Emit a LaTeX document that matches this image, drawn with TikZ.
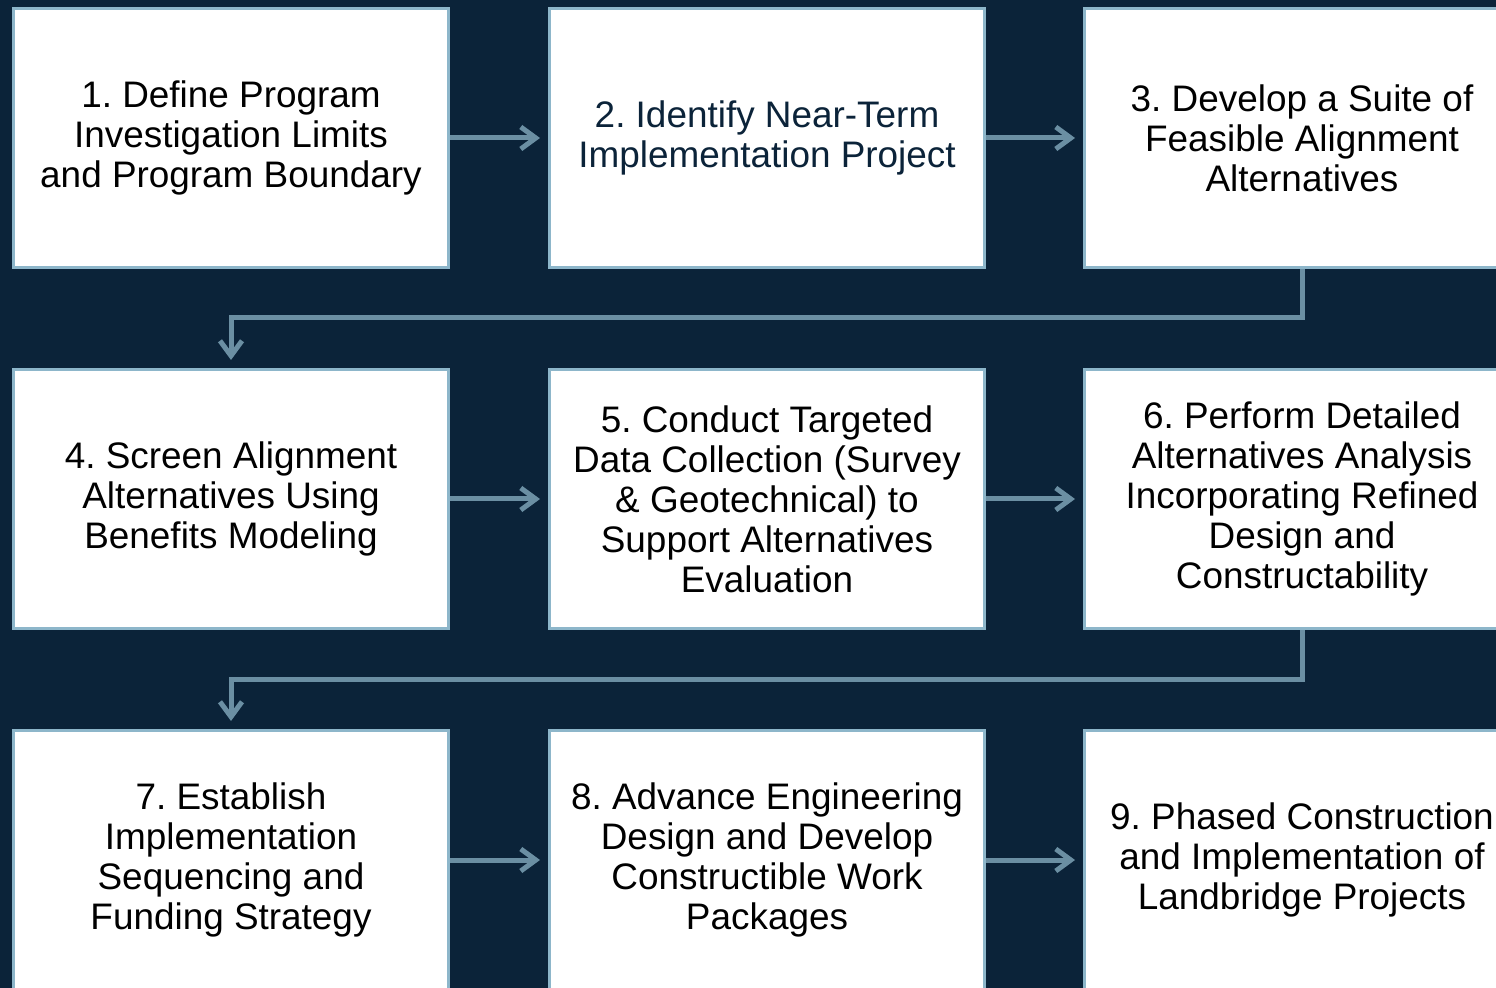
\documentclass[tikz,border=0pt]{standalone}
\usepackage{fontspec}
\setmainfont{Liberation Sans}
\usetikzlibrary{arrows.meta}

\definecolor{navy}{HTML}{0B2339}
\definecolor{edgeblue}{HTML}{8DB6CA}
\definecolor{flowblue}{HTML}{6B8FA3}

\tikzset{
    stepbox/.style={draw=edgeblue, line width=0.3mm, fill=white, minimum width=4.35cm, minimum height=2.59cm, inner sep=0pt, align=center, text=black, font=\fontsize{10.5}{11.4}\selectfont},
    flow/.style={draw=flowblue, line width=0.5mm, -{Straight Barb[length=1.5mm,width=2.2mm]}, shorten >=0.8mm}
}

\begin{document}
\frenchspacing
\begin{tikzpicture}[x=1cm, y=-1cm]
    \fill[navy] (0,0) rectangle (14.96,9.88);
    \useasboundingbox (0,0) rectangle (14.96,9.88);

	%1
	\node[stepbox] (b1) at (2.31,1.38) {1. Define Program\\Investigation Limits\\and Program Boundary};
	\node[stepbox, text=navy] (b2) at (7.67,1.38) {2. Identify Near-Term\\Implementation Project};
	\node[stepbox] (b3) at (13.02,1.38) {3. Develop a Suite of\\Feasible Alignment\\Alternatives};

	\draw[flow] (b1) -- (b2);
	\draw[flow] (b2) -- (b3);

	%2
	\node[stepbox] (b4) at (2.31,4.99) {4. Screen Alignment\\Alternatives Using\\Benefits Modeling};
	\node[stepbox] (b5) at (7.67,4.99) {5. Conduct Targeted\\Data Collection (Survey\\\& Geotechnical) to\\Support Alternatives\\Evaluation};
	\node[stepbox] (b6) at (13.02,4.99) {6. Perform Detailed\\Alternatives Analysis\\Incorporating Refined\\Design and\\Constructability};

	\draw[flow] (b3.south) -- ++(0,0.49) -| (b4.north);
	\draw[flow] (b4) -- (b5);
	\draw[flow] (b5) -- (b6);

	%3
	\node[stepbox] (b7) at (2.31,8.60) {7. Establish\\Implementation\\Sequencing and\\Funding Strategy};
	\node[stepbox] (b8) at (7.67,8.60) {8. Advance Engineering\\Design and Develop\\Constructible Work\\Packages};
	\node[stepbox] (b9) at (13.02,8.60) {9. Phased Construction\\and Implementation of\\Landbridge Projects};

	\draw[flow] (b6.south) -- ++(0,0.49) -| (b7.north);
	\draw[flow] (b7) -- (b8);
	\draw[flow] (b8) -- (b9);
\end{tikzpicture}
\end{document}
